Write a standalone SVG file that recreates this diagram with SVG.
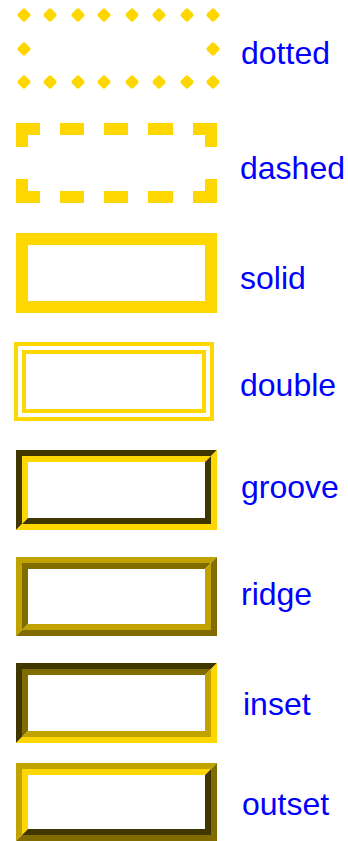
<svg xmlns="http://www.w3.org/2000/svg" xmlns:xlink="http://www.w3.org/1999/xlink" width="348" height="841" viewBox="0 0 348 841">
<style>
.lbl{font-family:"Liberation Sans",Arial,sans-serif;font-size:32px;fill:#0000ff}
.gold{fill:#ffd700}
.lt{fill:#c0a200}
.md{fill:#806c00}
.dk{fill:#403600}
</style>
<defs>
<rect id="dot" x="-5.2" y="-5.2" width="10.4" height="10.4" rx="2" transform="rotate(45)" fill="#ffd700"/>
</defs>
<rect width="348" height="841" fill="#ffffff"/>
<g id="dotted">
<use xlink:href="#dot" x="24" y="15"/><use xlink:href="#dot" x="50" y="15"/><use xlink:href="#dot" x="78" y="15"/><use xlink:href="#dot" x="104" y="15"/><use xlink:href="#dot" x="132" y="15"/><use xlink:href="#dot" x="159" y="15"/><use xlink:href="#dot" x="187" y="15"/><use xlink:href="#dot" x="213" y="15"/>
<use xlink:href="#dot" x="24" y="49"/><use xlink:href="#dot" x="213" y="49"/>
<use xlink:href="#dot" x="24" y="82"/><use xlink:href="#dot" x="50" y="82"/><use xlink:href="#dot" x="78" y="82"/><use xlink:href="#dot" x="104" y="82"/><use xlink:href="#dot" x="132" y="82"/><use xlink:href="#dot" x="159" y="82"/><use xlink:href="#dot" x="187" y="82"/><use xlink:href="#dot" x="213" y="82"/>
<text class="lbl" x="241" y="64">dotted</text>
</g>
<g id="dashed" class="gold">
<path d="M16,123 H40 V135 H28 V147 H16 Z"/>
<rect x="60" y="123" width="24" height="12"/><rect x="104" y="123" width="24" height="12"/><rect x="148" y="123" width="25" height="12"/>
<path d="M193,123 H217 V147 H205 V135 H193 Z"/>
<path d="M16,179 H28 V191 H40 V203 H16 Z"/>
<rect x="60" y="191" width="24" height="12"/><rect x="104" y="191" width="24" height="12"/><rect x="148" y="191" width="25" height="12"/>
<path d="M205,179 H217 V203 H193 V191 H205 Z"/>
<text class="lbl" x="240" y="179">dashed</text>
</g>
<g id="solid">
<rect x="22" y="239" width="189" height="68" fill="none" stroke="#ffd700" stroke-width="12"/>
<text class="lbl" x="240" y="289">solid</text>
</g>
<g id="double">
<rect x="16" y="344" width="196" height="75" fill="none" stroke="#ffd700" stroke-width="4"/>
<rect x="24" y="352" width="180" height="59" fill="none" stroke="#ffd700" stroke-width="4"/>
<text class="lbl" x="240" y="396">double</text>
</g>
<g id="groove">
<path class="dk" d="M16,450 H217 L211,456 H22 V524 L16,530 Z"/>
<path class="gold" d="M22,456 H211 L205,462 H28 V518 L22,524 Z"/>
<path class="gold" d="M217,450 V530 H16 L22,524 H211 V456 Z"/>
<path class="dk" d="M211,456 V524 H22 L28,518 H205 V462 Z"/>
<text class="lbl" x="241" y="498">groove</text>
</g>
<g id="ridge">
<path class="lt" d="M16,557 H217 L211,563 H22 V630 L16,636 Z"/>
<path class="md" d="M22,563 H211 L205,569 H28 V624 L22,630 Z"/>
<path class="md" d="M217,557 V636 H16 L22,630 H211 V563 Z"/>
<path class="lt" d="M211,563 V630 H22 L28,624 H205 V569 Z"/>
<text class="lbl" x="241" y="605">ridge</text>
</g>
<g id="inset">
<path class="dk" d="M16,663 H217 L211,669 H22 V737 L16,743 Z"/>
<path class="md" d="M22,669 H211 L205,675 H28 V731 L22,737 Z"/>
<path class="gold" d="M217,663 V743 H16 L22,737 H211 V669 Z"/>
<path class="lt" d="M211,669 V737 H22 L28,731 H205 V675 Z"/>
<text class="lbl" x="243" y="715">inset</text>
</g>
<g id="outset">
<path class="lt" d="M16,763 H217 L211,769 H22 V835 L16,841 Z"/>
<path class="gold" d="M22,769 H211 L205,775 H28 V829 L22,835 Z"/>
<path class="md" d="M217,763 V841 H16 L22,835 H211 V769 Z"/>
<path class="dk" d="M211,769 V835 H22 L28,829 H205 V775 Z"/>
<text class="lbl" x="242" y="815">outset</text>
</g>
</svg>
